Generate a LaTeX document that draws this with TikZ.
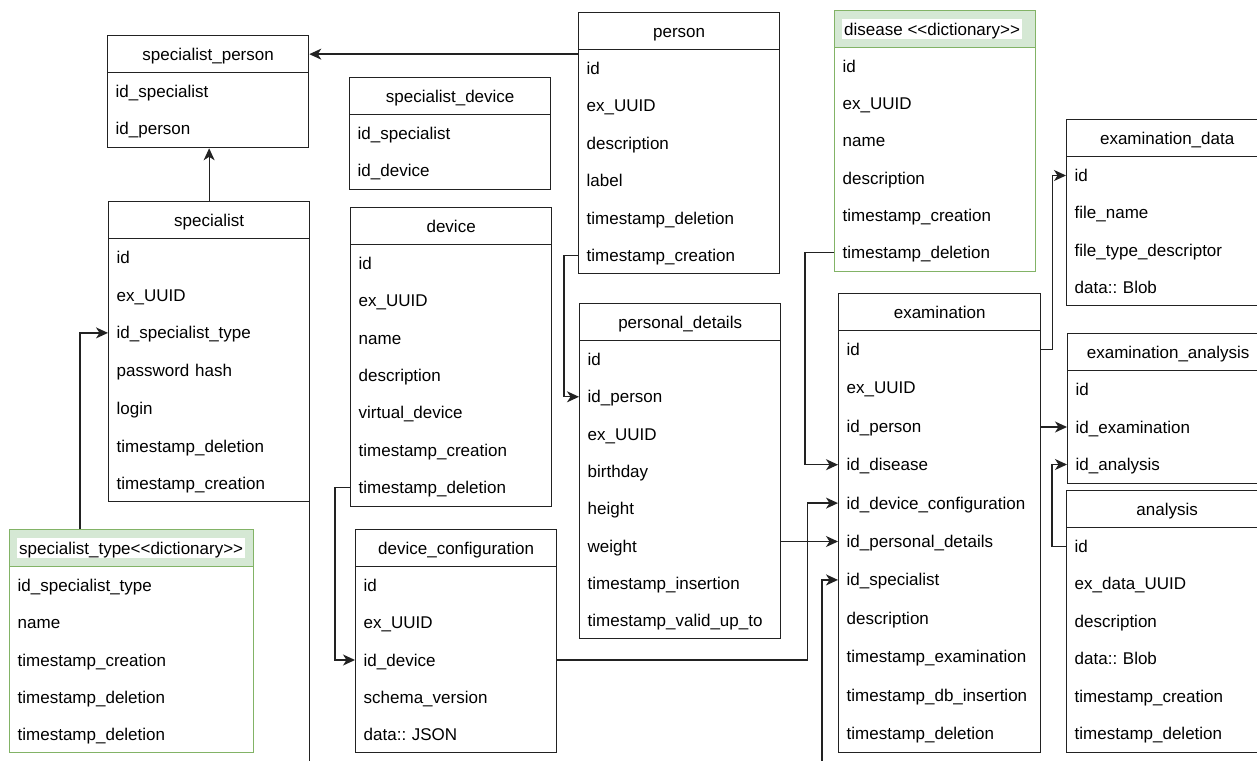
\documentclass[tikz,border=0pt]{standalone}
\usepackage{fontspec}
\setmainfont{Liberation Sans}
\usetikzlibrary{arrows.meta,calc}
\definecolor{hgreen}{HTML}{D5E8D4}
\definecolor{bgreen}{HTML}{82B366}
\definecolor{ink}{HTML}{222222}
\frenchspacing

\tikzset{
  frame/.style={rectangle, line width=1.3pt, inner sep=0pt},
  txt/.style={font=\fontsize{17}{20}\selectfont, text height=14pt, text depth=2pt},
  rowtxt/.style={txt, inner xsep=8.5pt, inner ysep=0pt, align=left},
  plainhead/.style={txt, rectangle, draw=ink, line width=1.3pt, minimum height=37pt, inner sep=0pt},
  dicthead/.style={rectangle, draw=bgreen, fill=hgreen, line width=1.3pt, minimum height=37pt, inner sep=0pt},
  dicttitle/.style={txt, fill=white, inner xsep=2pt, inner ysep=2pt},
  arr/.style={draw=ink, line width=1.3pt, -{Stealth[length=12pt, width=11pt, inset=3.5pt]}},
  conn/.style={draw=ink, line width=1.3pt}
}

% #1 name, #2 x, #3 top, #4 width, #5 bottom, #6 pitch, #7 rows, #8 border colour
\newcommand\tblbody[8]{%
  \pgfmathsetmacro\tblh{#5-#3}%
  \pgfmathsetmacro\tblw{#4-17}%
  \node[frame, draw=#8, minimum width=#4pt, minimum height=\tblh pt, anchor=north west] (#1) at (#2,#3) {};
  \foreach \rowtext [count=\rn] in {#7} {
    \node[rowtxt, text width=\tblw pt, anchor=west] (#1-\rn) at (#2,{#3+56.5+(\rn-1)*#6}) {\rowtext};
  }
}
% name x top width bottom pitch title rows
\newcommand\tbl[8]{%
  \tblbody{#1}{#2}{#3}{#4}{#5}{#6}{#8}{ink}
  \node[plainhead, minimum width=#4pt, anchor=north west] (#1-h) at (#2,#3) {#7};
}
\newcommand\dtbl[8]{%
  \tblbody{#1}{#2}{#3}{#4}{#5}{#6}{#8}{bgreen}
  \node[dicthead, minimum width=#4pt, anchor=north west] (#1-h) at (#2,#3) {};
  \node[dicttitle, anchor=west] (#1-t) at ($(#1-h.west)+(8,0)$) {#7};
}

\begin{document}
\begin{tikzpicture}[x=1pt, y=-1pt]
\fill[white] (0,0) rectangle (1257,760);
\clip (0,0) rectangle (1257,760);

\tbl{sp}{107}{35}{201}{147}{37}{specialist\_person}{id\_specialist, id\_person}
\tbl{spec}{108}{201}{201}{501}{37.7}{specialist}{id, ex\_UUID, id\_specialist\_type, password hash, login, timestamp\_deletion, timestamp\_creation}
\dtbl{stype}{9}{529}{244}{752}{37.25}{specialist\_type<{}<dictionary>{}>}{id\_specialist\_type, name, timestamp\_creation, timestamp\_deletion, timestamp\_deletion}
\tbl{sd}{349}{77}{201}{189}{37}{specialist\_device}{id\_specialist, id\_device}
\tbl{dev}{350}{207}{201}{506}{37.3}{device}{id, ex\_UUID, name, description, virtual\_device, timestamp\_creation, timestamp\_deletion}
\tbl{dc}{355}{529}{201}{752}{37.25}{device\_configuration}{id, ex\_UUID, id\_device, schema\_version, data:: JSON}
\tbl{person}{578}{12}{201}{273}{37.4}{person}{id, ex\_UUID, description, label, timestamp\_deletion, timestamp\_creation}
\tbl{pd}{579}{303}{201}{638}{37.3}{personal\_details}{id, id\_person, ex\_UUID, birthday, height, weight, timestamp\_insertion, timestamp\_valid\_up\_to}
\dtbl{dis}{834}{10}{201}{271}{37.2}{disease <{}<dictionary>{}>}{id, ex\_UUID, name, description, timestamp\_creation, timestamp\_deletion}
\tbl{exam}{838}{293}{202}{752}{38.4}{examination}{id, ex\_UUID, id\_person, id\_disease, id\_device\_configuration, id\_personal\_details, id\_specialist, description, timestamp\_examination, timestamp\_db\_insertion, timestamp\_deletion}
\tbl{ed}{1066}{119}{201}{305}{37.3}{examination\_data}{id, file\_name, file\_type\_descriptor, data:: Blob}
\tbl{ea}{1067}{333}{201}{483}{37.5}{examination\_analysis}{id, id\_examination, id\_analysis}
\tbl{an}{1066}{490}{201}{752}{37.4}{analysis}{id, ex\_data\_UUID, description, data:: Blob, timestamp\_creation, timestamp\_deletion}

\coordinate (specbot) at (309,770);
\coordinate (exbot) at (822,770);

\draw[arr] (sp-h.east -| person.west) -- (sp-h.east);
\draw[arr] (spec.north) -- (spec.north |- sp.south);
\draw[arr] ($(stype.north west)+(71,0)$) |- (spec-3.west);
\draw[conn] (spec-7.east) -- (spec-7.east |- specbot);
\draw[arr] (person-6.west) -- ++(-14,0) |- (pd-2.west);
\draw[arr] (dev-7.west) -- ++(-15,0) |- (dc-3.west);
\draw[arr] (dis-6.west) -- ++(-29,0) |- (exam-4.west);
\draw[arr] (dc-3.east) -- ++(251,0) |- (exam-5.west);
\draw[arr] (exam-6.west -| pd.east) -- (exam-6.west);
\draw[arr] (exbot) |- (exam-7.west);
\draw[arr] (exam-1.east) -- ++(12,0) |- (ed-1.west);
\draw[arr] (ea-2.west -| exam.east) -- (ea-2.west);
\draw[arr] (an-1.west) -- ++(-14,0) |- (ea-3.west);
\end{tikzpicture}
\end{document}
